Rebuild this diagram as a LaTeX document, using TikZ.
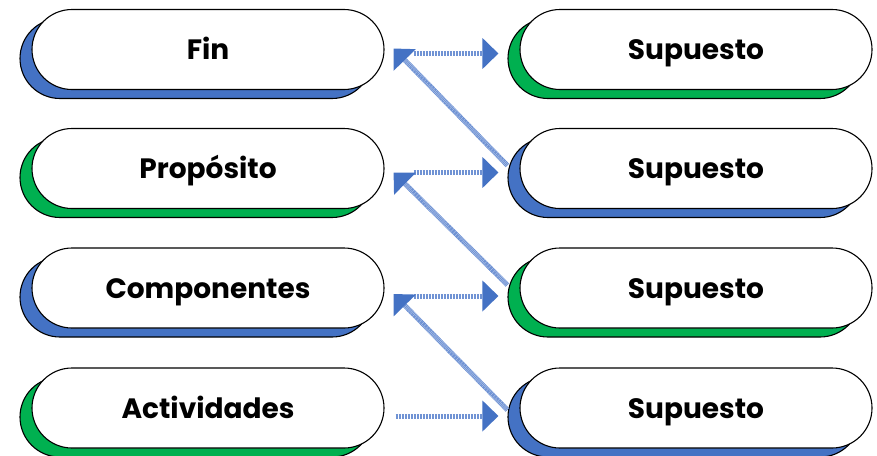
\documentclass[tikz,border=0pt]{standalone}
\usepackage{fontspec}
\setmainfont{Poppins}
\usetikzlibrary{shapes.misc,shadows,arrows.meta}
\definecolor{sblue}{HTML}{4472C4}
\definecolor{sgreen}{HTML}{00B050}
\definecolor{ablue}{HTML}{4472C4}
\definecolor{lblue}{HTML}{7093D4}
\tikzset{
  pill/.style={rounded rectangle, draw=black, line width=1.1pt, fill=white,
    minimum width=352pt, minimum height=80pt, inner sep=0pt,
    text height=20pt, text depth=0pt,
    font=\fontsize{28}{32}\selectfont\bfseries},
  bshadow/.style={pill, general shadow={fill=sblue, draw=black, line width=1.1pt, shadow xshift=-12pt, shadow yshift=-9pt}},
  gshadow/.style={pill, general shadow={fill=sgreen, draw=black, line width=1.1pt, shadow xshift=-12pt, shadow yshift=-9pt}},
  link/.style={draw=lblue, line width=5pt, dash pattern=on 1pt off 0.5pt,
    -{Triangle[length=16pt,width=30pt,fill=ablue,color=ablue]}},
}
\begin{document}
\begin{tikzpicture}[x=1pt,y=-1pt]
\useasboundingbox (0,0) rectangle (877,455);
\node[bshadow] (L1) at (208,49.5) {Fin};
\node[gshadow] (L2) at (208,168.5) {Propósito};
\node[bshadow] (L3) at (208,288) {Componentes};
\node[gshadow] (L4) at (208,408) {Actividades};
\node[gshadow] (R1) at (696,49.5) {Supuesto};
\node[bshadow] (R2) at (696,168.5) {Supuesto};
\node[gshadow] (R3) at (696,288) {Supuesto};
\node[bshadow] (R4) at (696,408) {Supuesto};
% horizontal links
\draw[link] ([xshift=29pt,yshift=-4pt]L1.east) -- ([xshift=-21pt,yshift=-4pt]R1.west);
\draw[link] ([xshift=29pt,yshift=-4pt]L2.east) -- ([xshift=-21pt,yshift=-4pt]R2.west);
\draw[link] ([xshift=29pt,yshift=-8pt]L3.east) -- ([xshift=-21pt,yshift=-8pt]R3.west);
\draw[link] ([xshift=11pt,yshift=-8pt]L4.east) -- ([xshift=-21pt,yshift=-8pt]R4.west);
% diagonal links
\draw[link] ([xshift=-12pt,yshift=3pt]R2.west) -- ([xshift=9pt,yshift=1pt]L1.east);
\draw[link] ([xshift=-12pt,yshift=3pt]R3.west) -- ([xshift=9pt,yshift=-4pt]L2.east);
\draw[link] ([xshift=-12pt,yshift=-2pt]R4.west) -- ([xshift=9pt,yshift=-6pt]L3.east);
\end{tikzpicture}
\end{document}
